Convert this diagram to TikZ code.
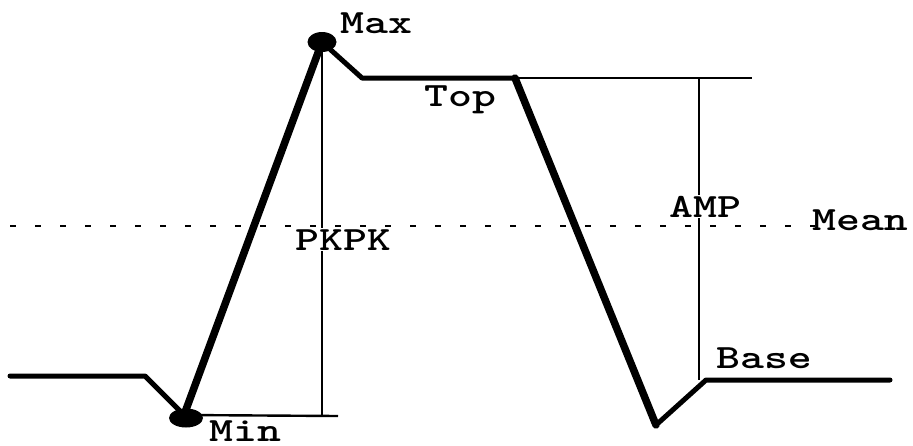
\documentclass[tikz,border=0pt]{standalone}
\usepackage{fontspec}
\usepackage{graphicx}
\usetikzlibrary{shapes.geometric}
\newcommand\lbltext[1]{\scalebox{1.34}[1]{\ttfamily\fontseries{b}\fontsize{34}{34}\selectfont #1}}
\begin{document}
\begin{tikzpicture}[x=1pt,y=-1pt,
  wave/.style={line width=5pt,line join=round,line cap=round},
  slope/.style={line width=7.5pt,line cap=round},
  thin/.style={line width=2.4pt},
  meanline/.style={line width=2pt,dash pattern=on 6pt off 19pt},
  lab/.style={inner sep=0pt,anchor=base west},
  blank/.style={lab,fill=white,inner sep=1pt},
  dot/.style={ellipse,fill=black,inner sep=0pt}]
\useasboundingbox (0,0) rectangle (913,445);
% waveform points
\coordinate (L0) at (10,376);
\coordinate (L1) at (145,376);
\coordinate (MinP) at (184,415);
\coordinate (MaxP) at (322,42);
\coordinate (T0) at (362,78);
\coordinate (T1) at (515,78);
\coordinate (TE) at (752,78);
\coordinate (B0) at (656,425);
\coordinate (B1) at (706,380);
\coordinate (B2) at (890,380);
\coordinate (MinE) at (338,416);
\coordinate (AmpB) at (699,380);
\coordinate (AmpT) at (699,78);
\coordinate (PkT) at (322,42);
\coordinate (PkB) at (322,416);
\coordinate (M0) at (10,226);
\coordinate (M1) at (815,226);
% thin guide lines
\draw[thin] (T1) -- (TE);
\draw[thin] (MinP) -- (MinE);
\draw[thin] (PkT) -- (PkB);
\draw[thin] (AmpT) -- (AmpB);
% waveform
\draw[wave] (L0) -- (L1) -- (MinP) -- (MaxP) -- (T0) -- (T1) -- (B0) -- (B1) -- (B2);
\draw[slope] (MinP) -- (MaxP);
\draw[slope] (T1) -- (B0);
% dots
\node[dot,minimum width=29pt,minimum height=20pt] (maxdot) at (322,42) {};
\node[dot,minimum width=34pt,minimum height=19pt] (mindot) at (186,418) {};
% labels
\node[lab] (max) at (340,33) {\lbltext{Max}};
\node[lab] (top) at (424,106) {\lbltext{Top}};
\node[lab] (min) at (209,441) {\lbltext{Min}};
\node[lab] (base) at (716,368) {\lbltext{Base}};
\node[lab] (mean) at (812,230) {\lbltext{Mean}};
\node[blank] (amp) at (668,217) {\lbltext{AMP}};
\node[blank] (pkpk) at (294,250) {\lbltext{PKPK}};
% mean line
\draw[meanline] (M0) -- (M1);
\end{tikzpicture}
\end{document}
